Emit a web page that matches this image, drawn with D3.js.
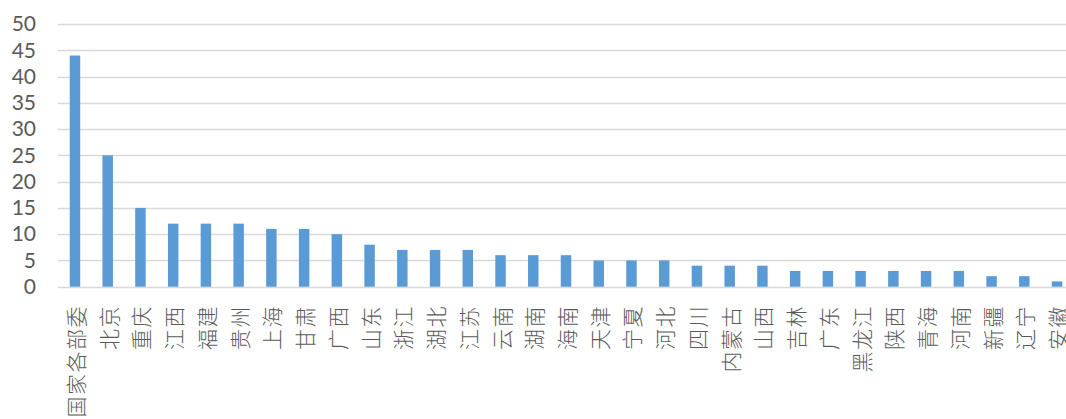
<!DOCTYPE html>
<html>
<head>
	<meta charset="utf-8">
	<title>各地区数量</title>
	<script src="https://cdn.jsdelivr.net/npm/d3@7"></script>
	<style type="text/css">
		body { margin: 0; background: #fff; }
		svg { display: block; }
	</style>
</head>
<body>
	<script type="text/javascript">
		// data
		var regions = ["国家各部委", "北京", "重庆", "江西", "福建", "贵州", "上海", "甘肃", "广西", "山东",
			"浙江", "湖北", "江苏", "云南", "湖南", "海南", "天津", "宁夏", "河北", "四川",
			"内蒙古", "山西", "吉林", "广东", "黑龙江", "陕西", "青海", "河南", "新疆", "辽宁", "安徽"];
		var counts = [44, 25, 15, 12, 12, 12, 11, 11, 10, 8,
			7, 7, 7, 6, 6, 6, 5, 5, 5, 4,
			4, 4, 3, 3, 3, 3, 3, 3, 2, 2, 1];
		var yTicks = [0, 5, 10, 15, 20, 25, 30, 35, 40, 45, 50];

		var width = 1066;
		var height = 419;

		var svg = d3.select("body").append("svg")
			.attr("width", width)
			.attr("height", height);

		// scales
		var xScale = d3.scaleBand()
			.domain(regions)
			.range([58.6, 1073.4])
			.paddingInner(0.68)
			.paddingOuter(0.34);
		var yScale = d3.scaleLinear()
			.domain([0, 50])
			.range([286.7, 24]);

		// gridlines
		svg.append("g")
			.selectAll("line")
			.data(yTicks)
			.enter()
			.append("line")
			  .attr("x1", 58)
			  .attr("x2", width)
			  .attr("y1", function(d) { return Math.round(yScale(d)) + 0.5; })
			  .attr("y2", function(d) { return Math.round(yScale(d)) + 0.5; })
			  .attr("stroke", "#d9d9d9")
			  .attr("stroke-width", 1.3);

		// y axis labels
		var yAxis = svg.append("g")
			.attr("transform", "translate(36,0)")
			.call(d3.axisLeft(yScale).tickValues(yTicks).tickSize(0).tickPadding(0));
		yAxis.select(".domain").remove();
		yAxis.selectAll("text")
			.attr("fill", "#595959")
			.style("font-family", "Lato, 'Open Sans', sans-serif")
			.style("font-size", "21px");

		// bars
		svg.append("g")
			.selectAll("rect")
			.data(regions)
			.enter()
			.append("rect")
			  .attr("x", function(d) { return xScale(d); })
			  .attr("y", function(d, i) { return yScale(counts[i]); })
			  .attr("width", xScale.bandwidth())
			  .attr("height", function(d, i) { return yScale(0) - yScale(counts[i]); })
			  .attr("fill", "#5b9bd5");

		// category labels, rotated
		svg.append("g")
			.selectAll("text")
			.data(regions)
			.enter()
			.append("text")
			  .attr("transform", function(d) {
			    return "translate(" + (xScale(d) + xScale.bandwidth() / 2) + ",305) rotate(-90)";
			  })
			  .attr("text-anchor", "end")
			  .attr("dominant-baseline", "central")
			  .attr("fill", "#595959")
			  .style("font-family", "'Noto Sans CJK SC', sans-serif")
			  .style("font-weight", "300")
			  .style("font-size", "21px")
			  .style("letter-spacing", "1.5px")
			  .text(function(d) { return d; });
	</script>
</body>
</html>
